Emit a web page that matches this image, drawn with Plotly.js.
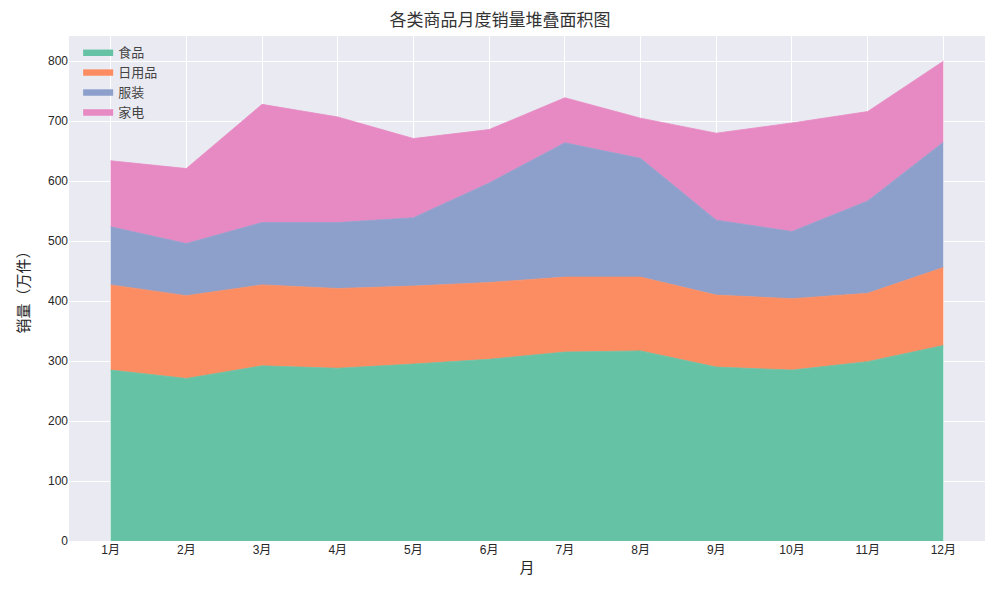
<!DOCTYPE html>
<html>
<head>
<meta charset="utf-8">
<script src="https://cdn.plot.ly/plotly-3.0.1.min.js"></script>
<style>
  body { margin: 0; background: #fff; }
  #chart { width: 1000px; height: 600px; }
</style>
</head>
<body>
<div id="chart"></div>
<script>
// months and monthly values per category
const months = ['1月', '2月', '3月', '4月', '5月', '6月', '7月', '8月', '9月', '10月', '11月', '12月'];
const food = [285, 271, 292, 288, 295, 303, 315, 317, 290, 285, 299, 326];
const daily = [142, 138, 135, 133, 130, 128, 125, 123, 120, 119, 114, 130];
const clothing = [97, 87, 104, 110, 114, 166, 224, 198, 125, 112, 154, 209];
const appliances = [110, 125, 197, 176, 132, 89, 75, 67, 145, 181, 149, 135];

const names = ['食品', '日用品', '服装', '家电'];
const colors = ['#66c2a5', '#fc8d62', '#8da0cb', '#e78ac3'];
const series = [food, daily, clothing, appliances];

const data = series.map((vals, i) => ({
    x: months,
    y: vals,
    name: names[i],
    type: 'scatter',
    mode: 'lines',
    stackgroup: 'one',
    fillcolor: colors[i],
    line: { color: colors[i], width: 0.8 },
    hoverinfo: 'x+y+name'
}));

const layout = {
    width: 1000,
    height: 600,
    margin: { t: 36, b: 59, l: 69, r: 15 },
    paper_bgcolor: '#fff',
    plot_bgcolor: '#eaeaf2',
    font: { family: 'Liberation Sans, Noto Sans CJK SC, sans-serif', color: '#262626', size: 13 },
    title: {
        text: '各类商品月度销量堆叠面积图',
        font: { size: 17, color: '#333' },
        x: 0.5, xanchor: 'center', y: 0.967, yanchor: 'middle'
    },
    xaxis: {
        title: { text: '月', font: { size: 15 }, standoff: 6 },
        range: [-0.55, 11.55],
        gridcolor: '#fff',
        gridwidth: 1,
        zeroline: false,
        showline: false,
        ticks: '',
        tickfont: { size: 12 }
    },
    yaxis: {
        title: { text: '销量（万件）', font: { size: 15 }, standoff: 14 },
        range: [0, 842],
        dtick: 100,
        gridcolor: '#fff',
        gridwidth: 1,
        zeroline: false,
        showline: false,
        ticks: '',
        tickfont: { size: 12 }
    },
    legend: {
        x: 0.01, y: 0.998, xanchor: 'left', yanchor: 'top',
        bgcolor: 'rgba(0,0,0,0)',
        traceorder: 'normal',
        font: { size: 13, color: '#444' },
        tracegroupgap: 0
    },
    showlegend: true
};

Plotly.newPlot('chart', data, layout, { displayModeBar: false, responsive: false });
</script>
</body>
</html>
